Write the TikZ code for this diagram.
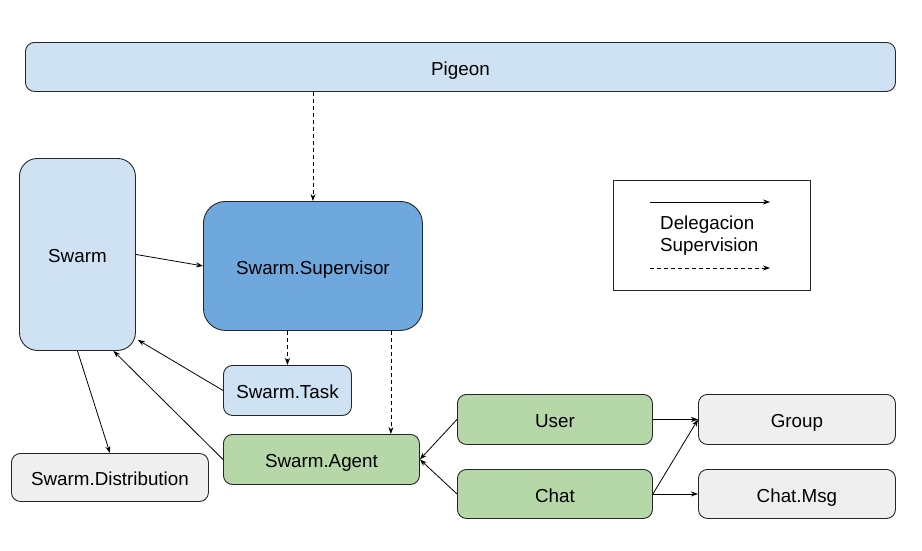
\documentclass[tikz,border=0pt]{standalone}
\usepackage{fontspec}
\setmainfont{Liberation Sans}
\usetikzlibrary{arrows.meta,calc}
\definecolor{lblue}{HTML}{CFE2F3}
\definecolor{mblue}{HTML}{6FA8DC}
\definecolor{lgreen}{HTML}{B6D7A8}
\definecolor{lgray}{HTML}{EFEFEF}
\begin{document}
\begin{tikzpicture}[x=1pt,y=-1pt,
  box/.style={draw=black!85,line width=0.9pt,rectangle,rounded corners=9pt,anchor=north west,inner sep=0pt,text height=16.5pt,text depth=0pt,font=\fontsize{18.8}{22}\selectfont},
  conn/.style={line width=0.8pt,-{Stealth[length=7pt,width=5pt]}},
  dconn/.style={conn,dash pattern=on 4pt off 3pt}]
\useasboundingbox (0,0) rectangle (922,550);
\node[box,fill=lblue,minimum width=870pt,minimum height=49pt] (pigeon) at (25,42) {Pigeon};
\node[box,fill=lblue,rounded corners=18pt,minimum width=116pt,minimum height=192pt] (swarm) at (19,158) {Swarm};
\node[box,fill=mblue,rounded corners=22pt,minimum width=219pt,minimum height=129pt] (sup) at (203,201) {Swarm.Supervisor};
\node[box,fill=lblue,minimum width=128pt,minimum height=50pt] (task) at (223,365) {Swarm.Task};
\node[box,fill=lgreen,minimum width=196pt,minimum height=50pt] (agent) at (223,434) {Swarm.Agent};
\node[box,fill=lgray,minimum width=197pt,minimum height=48pt] (dist) at (11,453) {Swarm.Distribution};
\node[box,fill=lgreen,minimum width=195pt,minimum height=50pt] (user) at (457,394) {User};
\node[box,fill=lgreen,minimum width=195pt,minimum height=49pt] (chat) at (457,469) {Chat};
\node[box,fill=lgray,minimum width=197pt,minimum height=50pt] (group) at (698,394) {Group};
\node[box,fill=lgray,minimum width=197pt,minimum height=49pt] (msg) at (698,469) {Chat.Msg};
% legend
\node[box,rounded corners=0pt,fill=white,minimum width=197pt,minimum height=110pt] (legend) at (613,180) {};
\node[anchor=west,align=left,inner sep=0pt,font=\fontsize{18.8}{22}\selectfont] (legtext) at (660,236) {Delegacion\\Supervision};
\coordinate (l1a) at (650,202);
\coordinate (l1b) at (770,202);
\coordinate (l2a) at (650,268);
\coordinate (l2b) at (770,268);
\draw[conn] (l1a) -- (l1b);
\draw[dconn] (l2a) -- (l2b);
% connectors
\draw[dconn] (sup.north |- pigeon.south) -- (sup.north);
\draw[conn] (swarm.east) -- (sup.west);
\draw[dconn] (task.north |- sup.south) -- (task.north);
\draw[dconn] ([xshift=-29pt]agent.north east |- sup.south) -- ([xshift=-29pt]agent.north east);
\draw[conn] (task.west) -- ([shift={(2pt,11pt)}]swarm.south east);
\draw[conn] (agent.west) -- ([xshift=36pt]swarm.south);
\draw[conn] (swarm.south) -- (dist.north);
\draw[conn] (user.west) -- (agent.east);
\draw[conn] (chat.west) -- (agent.east);
\draw[conn] (user.east) -- (group.west);
\draw[conn] (chat.east) -- (group.west);
\draw[conn] (chat.east) -- (msg.west);
\end{tikzpicture}
\end{document}
